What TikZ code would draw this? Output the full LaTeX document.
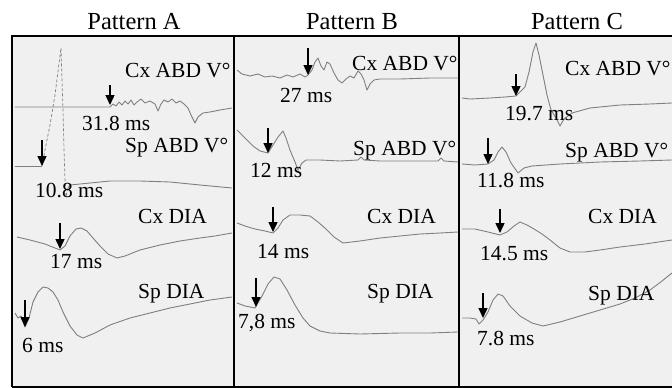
\documentclass[tikz,border=0pt]{standalone}
\usepackage{fontspec}
\setmainfont{Liberation Serif}
\usetikzlibrary{arrows.meta}
\tikzset{
  trace/.style = {draw=black!50, line width=0.9pt, line join=round},
  spike/.style = {trace, densely dashed, line width=0.7pt},
  lbl/.style = {anchor=base west, inner sep=0pt, font=\fontsize{21.5}{24}\selectfont},
  ttl/.style = {anchor=base, inner sep=0pt, font=\fontsize{24.5}{28}\selectfont},
  pointer/.style = {-{Triangle[length=10pt, width=9pt]}, line width=1.4pt, black},
  panel/.style = {fill=black!6, draw=none},
  frame/.style = {draw=black, line width=1.3pt},
}

\begin{document}
\begin{tikzpicture}[x=1pt, y=-1pt]
\clip (0,0) rectangle (672,388);
\fill[white] (0,0) rectangle (672,388);

% panels
\fill[panel] (12,36) rectangle (672,387);
\draw[frame] (12,387) -- (12,36) -- (672,36);
\draw[frame] (12,387) -- (672,387);
\draw[frame] (234,36) -- (234,387);
\draw[frame] (459,36) -- (459,387);

% titles
\node[ttl] (tA) at (134,29) {Pattern A};
\node[ttl] (tB) at (352,29) {Pattern B};
\node[ttl] (tC) at (577,29) {Pattern C};

% ---- pattern A ----
\draw[trace] (15,107) -- (60,107) -- (110,107) -- (113,104) -- (116,106) -- (119,102)
  -- (122,105) -- (125,101) -- (128,104) -- (131,100) -- (134,105) -- (137,102) -- (141,99)
  -- (145,103) -- (150,101) -- (155,104) -- (158,111) -- (161,104) -- (164,100) -- (168,102)
  -- (172,99) -- (176,103) -- (180,101) -- (184,104) -- (188,108) -- (191,115) -- (195,123)
  -- (198,117) -- (203,113) -- (210,112) -- (220,110) -- (232,108);
\draw[trace] (15,166) -- (42,166);
\draw[spike] (42,166) -- (45,150) -- (50,125) -- (55,95) -- (61,48) -- (62,80) -- (63,110)
  -- (64,150) -- (65,180) -- (66,197) -- (68,188);
\draw[trace] (68,188) -- (70,185) -- (90,183) -- (110,181) -- (140,181) -- (170,182)
  -- (200,185) -- (232,188);
\draw[trace] (17,237) -- (30,240) -- (45,244) -- (55,248) -- (60,250) -- (65,246) -- (70,236)
  -- (76,229) -- (81,228) -- (87,231) -- (93,238) -- (100,246) -- (108,254) -- (117,258)
  -- (125,256) -- (140,250) -- (160,245) -- (180,241) -- (200,238) -- (215,236) -- (232,233);
\draw[trace] (15,313) -- (18,318) -- (21,316) -- (25,327) -- (29,318) -- (33,302) -- (38,292)
  -- (43,287) -- (48,288) -- (53,292) -- (58,300) -- (63,312) -- (70,326) -- (77,335)
  -- (83,338) -- (95,333) -- (110,325) -- (130,318) -- (150,313) -- (170,308) -- (190,304)
  -- (210,300) -- (232,297);

\node[lbl] (aCxAbd) at (125,77) {Cx ABD V°};
\node[lbl] (aCxAbdT) at (82,130) {31.8 ms};
\node[lbl] (aSpAbd) at (125,152) {Sp ABD V°};
\node[lbl] (aSpAbdT) at (35,197) {10.8 ms};
\node[lbl] (aCxDia) at (138,223) {Cx DIA};
\node[lbl] (aCxDiaT) at (50,268) {17 ms};
\node[lbl] (aSpDia) at (138,298) {Sp DIA};
\node[lbl] (aSpDiaT) at (22,352) {6 ms};

\coordinate (pA1) at (110,105);
\coordinate (pA2) at (42,166);
\coordinate (pA3) at (60,249);
\coordinate (pA4) at (25,327);
\draw[pointer] ([yshift=20pt]pA1) -- (pA1);
\draw[pointer] ([yshift=26pt]pA2) -- (pA2);
\draw[pointer] ([yshift=26pt]pA3) -- (pA3);
\draw[pointer] ([yshift=27pt]pA4) -- (pA4);

% ---- pattern B ----
\draw[trace] (237,70) -- (242,74) -- (250,76) -- (258,74) -- (265,77) -- (272,76) -- (280,78)
  -- (287,75) -- (293,77) -- (300,74) -- (305,77) -- (308,75) -- (312,70) -- (315,62)
  -- (318,58) -- (321,66) -- (324,70) -- (327,62) -- (330,64) -- (334,73) -- (338,80)
  -- (342,83) -- (346,79) -- (350,76) -- (354,78) -- (358,71) -- (361,74) -- (364,80)
  -- (367,90) -- (370,84) -- (374,80) -- (380,79) -- (400,79) -- (430,78) -- (458,78);
\draw[trace] (237,130) -- (245,138) -- (253,146) -- (260,151) -- (268,153) -- (273,145)
  -- (278,137) -- (283,131) -- (286,138) -- (290,150) -- (295,162) -- (298,170) -- (302,163)
  -- (306,160) -- (320,160) -- (340,161) -- (358,160) -- (361,157) -- (364,160) -- (380,161)
  -- (400,161) -- (420,161) -- (438,161) -- (441,158) -- (444,161) -- (458,162);
\draw[trace] (237,223) -- (245,226) -- (255,229) -- (265,231) -- (273,233) -- (278,228)
  -- (283,220) -- (290,215) -- (300,215) -- (310,216) -- (318,222) -- (326,229) -- (334,237)
  -- (343,243) -- (360,241) -- (380,238) -- (400,236) -- (420,234) -- (440,233) -- (458,232);
\draw[trace] (237,303) -- (245,306) -- (255,308) -- (262,296) -- (268,284) -- (274,277)
  -- (280,279) -- (287,290) -- (295,305) -- (303,318) -- (310,326) -- (320,331) -- (330,333)
  -- (360,334) -- (400,333) -- (430,333) -- (458,332);

\node[lbl] (bCxAbd) at (352,70) {Cx ABD V°};
\node[lbl] (bCxAbdT) at (280,102) {27 ms};
\node[lbl] (bSpAbd) at (353,155) {Sp ABD V°};
\node[lbl] (bSpAbdT) at (250,177) {12 ms};
\node[lbl] (bCxDia) at (367,223) {Cx DIA};
\node[lbl] (bCxDiaT) at (257,258) {14 ms};
\node[lbl] (bSpDia) at (367,298) {Sp DIA};
\node[lbl] (bSpDiaT) at (238,328) {7,8 ms};

\coordinate (pB1) at (308,75);
\coordinate (pB2) at (268,153);
\coordinate (pB3) at (273,232);
\coordinate (pB4) at (256,307);
\draw[pointer] ([yshift=27pt]pB1) -- (pB1);
\draw[pointer] ([yshift=25pt]pB2) -- (pB2);
\draw[pointer] ([yshift=25pt]pB3) -- (pB3);
\draw[pointer] ([yshift=29pt]pB4) -- (pB4);

% ---- pattern C ----
\draw[trace] (462,98) -- (470,99) -- (490,98) -- (505,97) -- (516,96) -- (520,92) -- (525,87)
  -- (529,72) -- (533,52) -- (536,43) -- (539,55) -- (543,75) -- (547,95) -- (551,110)
  -- (556,118) -- (560,126) -- (564,119) -- (572,113) -- (590,108) -- (620,105) -- (650,104)
  -- (672,103);
\draw[trace] (462,164) -- (475,165) -- (488,164) -- (494,160) -- (498,152) -- (502,147)
  -- (506,152) -- (511,163) -- (518,173) -- (524,168) -- (532,166) -- (560,164) -- (600,162)
  -- (640,161) -- (672,160);
\draw[trace] (462,229) -- (475,229) -- (488,232) -- (500,235) -- (507,232) -- (514,226)
  -- (520,222) -- (527,225) -- (534,229) -- (542,234) -- (550,240) -- (560,248) -- (570,252)
  -- (585,252) -- (600,250) -- (620,247) -- (645,244) -- (672,240);
\draw[trace] (462,318) -- (470,318) -- (476,319) -- (479,324) -- (483,320) -- (488,312)
  -- (493,300) -- (498,294) -- (503,296) -- (510,306) -- (520,316) -- (532,323) -- (543,326)
  -- (560,322) -- (580,316) -- (600,310) -- (620,304) -- (635,298) -- (650,290) -- (662,281)
  -- (672,273);

\node[lbl] (cCxAbd) at (565,75) {Cx ABD V°};
\node[lbl] (cCxAbdT) at (505,120) {19.7 ms};
\node[lbl] (cSpAbd) at (565,157) {Sp ABD V°};
\node[lbl] (cSpAbdT) at (477,187) {11.8 ms};
\node[lbl] (cCxDia) at (588,223) {Cx DIA};
\node[lbl] (cCxDiaT) at (480,260) {14.5 ms};
\node[lbl] (cSpDia) at (588,300) {Sp DIA};
\node[lbl] (cSpDiaT) at (477,345) {7.8 ms};

\coordinate (pC1) at (516,96);
\coordinate (pC2) at (488,164);
\coordinate (pC3) at (500,233);
\coordinate (pC4) at (483,318);
\draw[pointer] ([yshift=22pt]pC1) -- (pC1);
\draw[pointer] ([yshift=26pt]pC2) -- (pC2);
\draw[pointer] ([yshift=24pt]pC3) -- (pC3);
\draw[pointer] ([yshift=25pt]pC4) -- (pC4);
\end{tikzpicture}
\end{document}
